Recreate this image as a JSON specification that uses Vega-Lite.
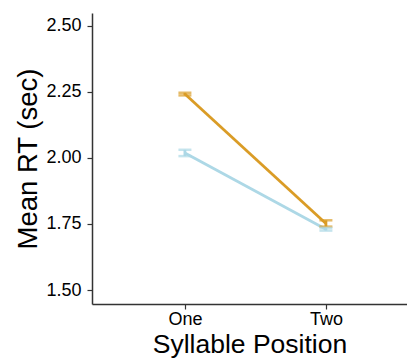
{
  "$schema": "https://vega.github.io/schema/vega-lite/v6.json",
  "autosize": "none",
  "padding": {"left": 92, "top": 13, "right": 0, "bottom": 54},
  "width": 315,
  "height": 291,
  "background": "white",
  "config": {
    "view": {"stroke": null},
    "font": "Liberation Sans",
    "axis": {
      "grid": false,
      "domainColor": "#333333",
      "domainWidth": 1.5,
      "tickColor": "#333333",
      "tickWidth": 1.2,
      "tickSize": 5,
      "labelFont": "Liberation Sans",
      "labelFontSize": 18,
      "labelColor": "#000000",
      "titleFont": "Liberation Sans",
      "titleFontSize": 26,
      "titleFontWeight": "normal",
      "titleColor": "#000000"
    }
  },
  "data": {
    "values": [
      {"position": "One", "condition": "B", "mean": 2.019, "lo": 2.007, "hi": 2.031},
      {"position": "Two", "condition": "B", "mean": 1.730, "lo": 1.725, "hi": 1.735},
      {"position": "One", "condition": "A", "mean": 2.242, "lo": 2.237, "hi": 2.247},
      {"position": "Two", "condition": "A", "mean": 1.752, "lo": 1.740, "hi": 1.764}
    ]
  },
  "encoding": {
    "x": {
      "field": "position",
      "type": "nominal",
      "sort": ["One", "Two"],
      "scale": {"type": "point", "padding": 0.617, "align": 0.534},
      "axis": {"title": "Syllable Position", "labelAngle": 0, "labelPadding": 1, "titlePadding": 3, "titleFontSize": 26.5}
    },
    "color": {
      "field": "condition",
      "type": "nominal",
      "scale": {"domain": ["A", "B"], "range": ["#DA9C26", "#ADD8E6"]},
      "legend": null
    }
  },
  "layer": [
    {
      "mark": {"type": "line", "strokeWidth": 2.8},
      "encoding": {
        "y": {
          "field": "mean",
          "type": "quantitative",
          "scale": {"domain": [1.447, 2.549], "nice": false, "zero": false},
          "axis": {"title": "Mean RT (sec)", "values": [1.5, 1.75, 2.0, 2.25, 2.5], "format": ".2f", "labelPadding": 6, "titlePadding": 3, "titleFontSize": 27.5}
        },
        "order": {"field": "position"},
        "detail": {"field": "condition"}
      }
    },
    {
      "mark": {"type": "rule", "strokeWidth": 2.8},
      "encoding": {
        "y": {"field": "lo", "type": "quantitative"},
        "y2": {"field": "hi"}
      }
    },
    {
      "mark": {"type": "tick", "size": 13, "thickness": 2.5},
      "encoding": {"y": {"field": "lo", "type": "quantitative"}}
    },
    {
      "mark": {"type": "tick", "size": 13, "thickness": 2.5},
      "encoding": {"y": {"field": "hi", "type": "quantitative"}}
    }
  ]
}
